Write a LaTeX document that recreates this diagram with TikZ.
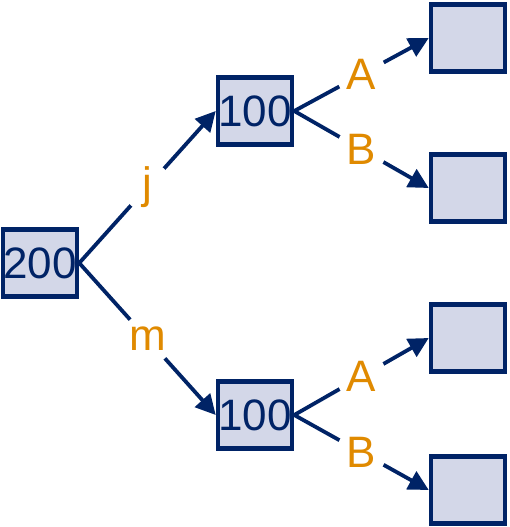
\documentclass[tikz,border=0pt]{standalone}
\usepackage{fontspec}
\setmainfont{Liberation Sans}
\usetikzlibrary{arrows.meta}
\definecolor{navy}{RGB}{0,35,102}
\definecolor{boxfill}{RGB}{211,215,232}
\definecolor{lblorange}{RGB}{224,138,0}
\tikzset{
  tbox/.style={draw=navy, fill=boxfill, line width=4.5pt, minimum width=74pt, minimum height=67pt, inner sep=0pt, text=navy, font=\fontsize{44}{44}\selectfont},
  conn/.style={draw=navy, line width=3.8pt, -{Triangle[length=20pt,width=20pt]}},
  lbl/.style={circle, fill=white, inner sep=3pt, text=lblorange, font=\fontsize{44}{44}\selectfont, midway}
}
\begin{document}
\begin{tikzpicture}[x=1pt,y=-1pt]
\useasboundingbox (0,0) rectangle (509,527);
\node[tbox] (r) at (40,263) {200};
\node[tbox] (u) at (255,111) {100};
\node[tbox] (d) at (255,415) {100};
\node[tbox] (ua) at (468,38) {};
\node[tbox] (ub) at (468,188) {};
\node[tbox] (da) at (468,338) {};
\node[tbox] (db) at (468,490) {};
\draw[conn] (r.east) -- node[lbl] {j} (u.west);
\draw[conn] (r.east) -- node[lbl] {m} (d.west);
\draw[conn] (u.east) -- node[lbl] {A} (ua.west);
\draw[conn] (u.east) -- node[lbl] {B} (ub.west);
\draw[conn] (d.east) -- node[lbl] {A} (da.west);
\draw[conn] (d.east) -- node[lbl] {B} (db.west);
\end{tikzpicture}
\end{document}
